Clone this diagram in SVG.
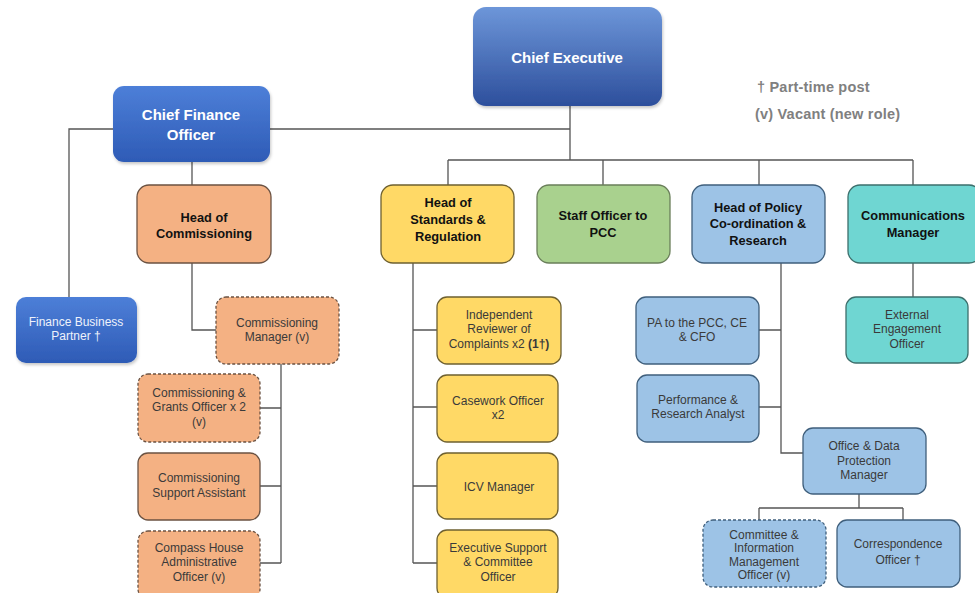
<svg xmlns="http://www.w3.org/2000/svg" width="975" height="593" viewBox="0 0 975 593">
<defs>
<linearGradient id="gCE" x1="0" y1="0" x2="0" y2="1"><stop offset="0" stop-color="#6d96d9"/><stop offset="1" stop-color="#2d4f9c"/></linearGradient>
<linearGradient id="gCFO" x1="0" y1="0" x2="0" y2="1"><stop offset="0" stop-color="#4d7fd8"/><stop offset="1" stop-color="#2e5bb6"/></linearGradient>
<filter id="sh" x="-10%" y="-10%" width="125%" height="130%"><feDropShadow dx="1" dy="2" stdDeviation="1.5" flood-color="#000" flood-opacity="0.22"/></filter>
</defs>
<style>
text{font-family:"Liberation Sans",Arial,sans-serif;text-anchor:middle;dominant-baseline:central}
.h{font-weight:bold;font-size:12.8px;fill:#111}
.c{font-size:12px;fill:#3a3a3a}
.w{font-weight:bold;font-size:15px;fill:#fff}
.wl{font-size:12px;fill:#eef2fb}
.lg{font-weight:bold;font-size:14.5px;fill:#808080;text-anchor:start;letter-spacing:0.2px}
.or{fill:#f4b183;stroke:#6b5242;stroke-width:1.3}
.ye{fill:#ffd966;stroke:#6e6030;stroke-width:1.3}
.gr{fill:#a9d18e;stroke:#6a7f5a;stroke-width:1.3}
.bl{fill:#9dc3e6;stroke:#3f5f7c;stroke-width:1.3}
.te{fill:#6fd6d2;stroke:#3d6f6c;stroke-width:1.3}
.dash{stroke-dasharray:3 2}
.ce{fill:url(#gCE)}
.cfo{fill:url(#gCFO)}
#conn path{fill:none;stroke:#555;stroke-width:1.3}
</style>
<rect width="975" height="593" fill="#fff"/>
<g id="conn">
<path d="M270,129 H570 M570,106 V160"/>
<path d="M448,160 H913 M448,160 V185 M603,160 V185 M759,160 V185 M913,160 V185"/>
<path d="M113,129 H69 V297"/>
<path d="M192,162 V185"/>
<path d="M192,263 V330 H216"/>
<path d="M281,364 V563 M260,408 H281 M260,486 H281 M260,563 H281"/>
<path d="M413,263 V563 M413,330 H437 M413,407 H437 M413,486 H437 M413,563 H437"/>
<path d="M781,263 V453 H803 M759,330 H781 M759,407 H781"/>
<path d="M913,263 V297"/>
<path d="M859,494 V508 M759,508 H903 M759,508 V520 M903,508 V520"/>
</g>
<g id="legend">
<text class="lg" x="757" y="87">† Part-time post</text>
<text class="lg" x="755" y="114">(v) Vacant (new role)</text>
</g>
<g id="chief-executive"><rect class="ce" filter="url(#sh)" x="473" y="7" width="189" height="99" rx="13"/><text class="w" x="567" y="57">Chief Executive</text></g>
<g id="cfo"><rect class="cfo" filter="url(#sh)" x="113" y="86" width="157" height="76" rx="11"/><text class="w" x="191" y="114">Chief Finance</text><text class="w" x="191" y="134">Officer</text></g>
<g id="finance-bp"><rect class="cfo" filter="url(#sh)" x="16" y="297" width="121" height="66" rx="10"/><text class="wl" x="76" y="322">Finance Business</text><text class="wl" x="76" y="336">Partner †</text></g>
<g id="head-commissioning"><rect class="or" x="137" y="185" width="134" height="78" rx="12"/><text class="h" x="204" y="217">Head of</text><text class="h" x="204" y="233">Commissioning</text></g>
<g id="comm-manager"><rect class="or dash" x="216" y="297" width="123" height="67" rx="10"/><text class="c" x="277" y="323">Commissioning</text><text class="c" x="277" y="337">Manager (v)</text></g>
<g id="grants-officer"><rect class="or dash" x="138" y="374" width="122" height="68" rx="10"/><text class="c" x="199" y="393">Commissioning &amp;</text><text class="c" x="199" y="407">Grants Officer x 2</text><text class="c" x="199" y="422">(v)</text></g>
<g id="support-assistant"><rect class="or" x="138" y="453" width="122" height="67" rx="10"/><text class="c" x="199" y="478">Commissioning</text><text class="c" x="199" y="493">Support Assistant</text></g>
<g id="compass-house"><rect class="or dash" x="138" y="531" width="122" height="68" rx="10"/><text class="c" x="199" y="548">Compass House</text><text class="c" x="199" y="562">Administrative</text><text class="c" x="199" y="577">Officer (v)</text></g>
<g id="head-standards"><rect class="ye" x="381" y="185" width="133" height="78" rx="12"/><text class="h" x="448" y="202">Head of</text><text class="h" x="448" y="219">Standards &amp;</text><text class="h" x="448" y="236">Regulation</text></g>
<g id="independent-reviewer"><rect class="ye" x="437" y="297" width="124" height="67" rx="10"/><text class="c" x="499" y="315">Independent</text><text class="c" x="499" y="329">Reviewer of</text><text class="c" x="499" y="344">Complaints x2 <tspan font-weight="bold">(1†)</tspan></text></g>
<g id="casework-officer"><rect class="ye" x="437" y="375" width="121" height="67" rx="10"/><text class="c" x="498" y="401">Casework Officer</text><text class="c" x="498" y="415">x2</text></g>
<g id="icv-manager"><rect class="ye" x="437" y="453" width="121" height="66" rx="10"/><text class="c" x="499" y="487">ICV Manager</text></g>
<g id="exec-support"><rect class="ye" x="437" y="530" width="121" height="68" rx="10"/><text class="c" x="498" y="548">Executive Support</text><text class="c" x="498" y="562">&amp; Committee</text><text class="c" x="498" y="577">Officer</text></g>
<g id="staff-officer"><rect class="gr" x="537" y="185" width="133" height="78" rx="12"/><text class="h" x="603" y="215">Staff Officer to</text><text class="h" x="603" y="232">PCC</text></g>
<g id="head-policy"><rect class="bl" x="692" y="185" width="133" height="78" rx="12"/><text class="h" x="758" y="207">Head of Policy</text><text class="h" x="758" y="223">Co-ordination &amp;</text><text class="h" x="758" y="240">Research</text></g>
<g id="pa"><rect class="bl" x="636" y="297" width="123" height="67" rx="10"/><text class="c" x="697" y="323">PA to the PCC, CE</text><text class="c" x="697" y="337">&amp; CFO</text></g>
<g id="performance"><rect class="bl" x="637" y="375" width="122" height="67" rx="10"/><text class="c" x="698" y="400">Performance &amp;</text><text class="c" x="698" y="414">Research Analyst</text></g>
<g id="office-dp"><rect class="bl" x="803" y="428" width="123" height="66" rx="10"/><text class="c" x="864" y="446">Office &amp; Data</text><text class="c" x="864" y="461">Protection</text><text class="c" x="864" y="475">Manager</text></g>
<g id="committee-info"><rect class="bl dash" x="703" y="520" width="123" height="67" rx="10"/><text class="c" x="764" y="535">Committee &amp;</text><text class="c" x="764" y="548">Information</text><text class="c" x="764" y="562">Management</text><text class="c" x="764" y="575">Officer (v)</text></g>
<g id="correspondence"><rect class="bl" x="837" y="520" width="123" height="67" rx="10"/><text class="c" x="898" y="544">Correspondence</text><text class="c" x="898" y="560">Officer †</text></g>
<g id="comms-manager"><rect class="te" x="848" y="185" width="133" height="78" rx="12"/><text class="h" x="913" y="215">Communications</text><text class="h" x="913" y="232">Manager</text></g>
<g id="external-engagement"><rect class="te" x="846" y="297" width="122" height="66" rx="10"/><text class="c" x="907" y="315">External</text><text class="c" x="907" y="329">Engagement</text><text class="c" x="907" y="344">Officer</text></g>
</svg>
